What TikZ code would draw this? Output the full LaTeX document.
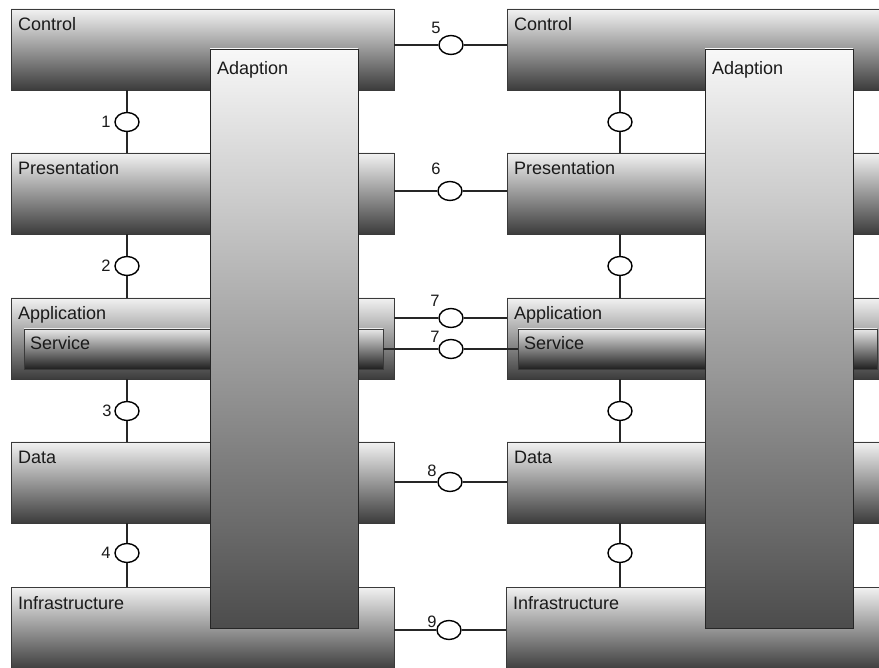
\documentclass[tikz,border=0pt]{standalone}
\usepackage{fontspec}
\setmainfont{Liberation Sans}
\usetikzlibrary{calc,shapes.geometric}
\definecolor{boxtop}{HTML}{F2F2F2}
\definecolor{boxbot}{HTML}{3C3C3C}
\definecolor{adtop}{HTML}{F8F8F8}
\definecolor{adbot}{HTML}{4C4C4C}
\definecolor{svtop}{HTML}{E8E8E8}
\definecolor{svbot}{HTML}{202020}
\definecolor{edge}{HTML}{3A3A3A}
\definecolor{txt}{HTML}{1A1A1A}
\begin{document}
\begin{tikzpicture}[x=1pt,y=-1pt,
  layerbox/.style={draw=edge, line width=0.9pt, top color=boxtop, bottom color=boxbot,
    minimum height=81pt, anchor=north west, inner sep=0pt, outer sep=0pt},
  leftbox/.style={layerbox, minimum width=383pt},
  rightbox/.style={layerbox, minimum width=400pt},
  servbox/.style={draw=edge, line width=0.9pt, top color=svtop, bottom color=svbot,
    minimum width=359pt, minimum height=40pt, anchor=north west, inner sep=0pt, outer sep=0pt},
  adbox/.style={draw=black!85, line width=0.9pt, top color=adtop, bottom color=adbot,
    minimum width=148pt, minimum height=579pt, anchor=north west, inner sep=0pt, outer sep=0pt},
  lbl/.style={anchor=base west, inner sep=0pt, text=txt, font=\fontsize{18}{20}\selectfont},
  num/.style={inner sep=0pt, text=txt, font=\fontsize{16.5}{18}\selectfont},
  iface/.style={ellipse, draw=black, fill=white, line width=1.4pt, minimum width=24pt,
    minimum height=19pt, inner sep=0pt},
  conn/.style={draw=black!85, line width=1.2pt}
]
\useasboundingbox[fill=white] (0,0) rectangle (879,668);

% left column layers
\node[leftbox] (ctlL) at (11,9) {};
\node[leftbox] (prsL) at (11,153) {};
\node[leftbox] (appL) at (11,298) {};
\node[leftbox] (datL) at (11,442) {};
\node[leftbox, minimum height=83pt] (infL) at (11,587) {};
\node[servbox] (srvL) at (24,329) {};

% right column layers
\node[rightbox] (ctlR) at (507,9) {};
\node[rightbox] (prsR) at (507,153) {};
\node[rightbox] (appR) at (507,298) {};
\node[rightbox] (datR) at (507,442) {};
\node[rightbox, minimum height=83pt] (infR) at (506,587) {};
\node[servbox] (srvR) at (518,329) {};

% layer labels
\node[lbl] (tctlL) at ($(ctlL.north west)+(7,22)$) {Control};
\node[lbl] (tprsL) at ($(prsL.north west)+(7,22)$) {Presentation};
\node[lbl] (tappL) at ($(appL.north west)+(7,22)$) {Application};
\node[lbl] (tsrvL) at ($(srvL.north west)+(6,21)$) {Service};
\node[lbl] (tdatL) at ($(datL.north west)+(7,22)$) {Data};
\node[lbl] (tinfL) at ($(infL.north west)+(7,22)$) {Infrastructure};

\node[lbl] (tctlR) at ($(ctlR.north west)+(7,22)$) {Control};
\node[lbl] (tprsR) at ($(prsR.north west)+(7,22)$) {Presentation};
\node[lbl] (tappR) at ($(appR.north west)+(7,22)$) {Application};
\node[lbl] (tsrvR) at ($(srvR.north west)+(6,21)$) {Service};
\node[lbl] (tdatR) at ($(datR.north west)+(7,22)$) {Data};
\node[lbl] (tinfR) at ($(infR.north west)+(7,22)$) {Infrastructure};

% adaption columns
\node[adbox] (adL) at (210,49) {};
\node[adbox] (adR) at (705,49) {};
\node[lbl] (tadL) at ($(adL.north west)+(7,26)$) {Adaption};
\node[lbl] (tadR) at ($(adR.north west)+(7,26)$) {Adaption};

% vertical interfaces, left
\node[iface] (i1) at (127,122) {};
\node[iface] (i2) at (127,266) {};
\node[iface] (i3) at (127,411) {};
\node[iface] (i4) at (127,553) {};
\draw[conn] (i1) -- (i1 |- ctlL.south); \draw[conn] (i1) -- (i1 |- prsL.north);
\draw[conn] (i2) -- (i2 |- prsL.south); \draw[conn] (i2) -- (i2 |- appL.north);
\draw[conn] (i3) -- (i3 |- appL.south); \draw[conn] (i3) -- (i3 |- datL.north);
\draw[conn] (i4) -- (i4 |- datL.south); \draw[conn] (i4) -- (i4 |- infL.north);
\node[num] (n1) at (106,122) {1};
\node[num] (n2) at (106,266) {2};
\node[num] (n3) at (107,411) {3};
\node[num] (n4) at (106,553) {4};

% vertical interfaces, right
\node[iface] (r1) at (620,122) {};
\node[iface] (r2) at (620,266) {};
\node[iface] (r3) at (620,411) {};
\node[iface] (r4) at (620,553) {};
\draw[conn] (r1) -- (r1 |- ctlR.south); \draw[conn] (r1) -- (r1 |- prsR.north);
\draw[conn] (r2) -- (r2 |- prsR.south); \draw[conn] (r2) -- (r2 |- appR.north);
\draw[conn] (r3) -- (r3 |- appR.south); \draw[conn] (r3) -- (r3 |- datR.north);
\draw[conn] (r4) -- (r4 |- datR.south); \draw[conn] (r4) -- (r4 |- infR.north);

% horizontal interfaces
\node[iface] (h5) at (451,45) {};
\node[iface] (h6) at (450,191) {};
\node[iface] (h7a) at (451,318) {};
\node[iface] (h7b) at (451,349) {};
\node[iface] (h8) at (450,482) {};
\node[iface] (h9) at (449,630) {};
\draw[conn] (h5) -- (h5 -| ctlL.east); \draw[conn] (h5) -- (h5 -| ctlR.west);
\draw[conn] (h6) -- (h6 -| prsL.east); \draw[conn] (h6) -- (h6 -| prsR.west);
\draw[conn] (h7a) -- (h7a -| appL.east); \draw[conn] (h7a) -- (h7a -| appR.west);
\draw[conn] (h7b) -- (h7b -| srvL.east); \draw[conn] (h7b) -- (h7b -| srvR.west);
\draw[conn] (h8) -- (h8 -| datL.east); \draw[conn] (h8) -- (h8 -| datR.west);
\draw[conn] (h9) -- (h9 -| infL.east); \draw[conn] (h9) -- (h9 -| infR.west);
\node[num] (n5) at (436,28) {5};
\node[num] (n6) at (436,169) {6};
\node[num] (n7a) at (435,301) {7};
\node[num] (n7b) at (435,337) {7};
\node[num] (n8) at (432,471) {8};
\node[num] (n9) at (432,622) {9};
\end{tikzpicture}
\end{document}
